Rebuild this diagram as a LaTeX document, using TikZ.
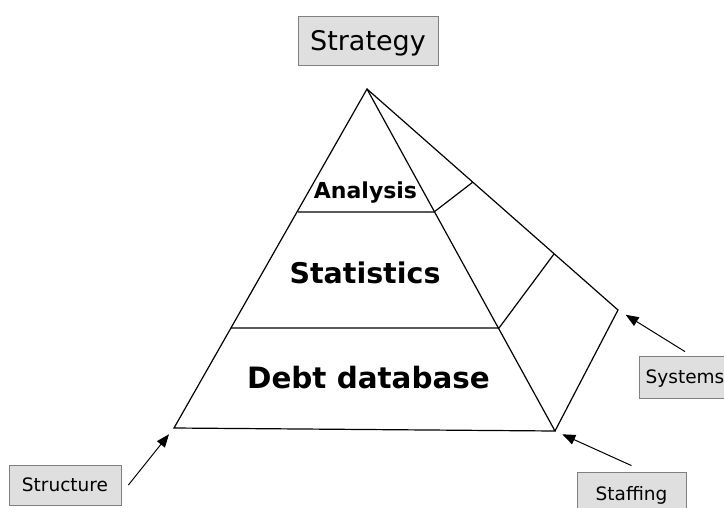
\documentclass[tikz,border=0pt]{standalone}
\usepackage{fontspec}
\setmainfont{DejaVu Sans}
\usetikzlibrary{arrows.meta}

\begin{document}
\begin{tikzpicture}[x=1pt, y=-1pt, line width=1.2pt,
    tag/.style={draw=gray, line width=0.8pt, fill=gray!25, inner sep=0pt,
        text height=13.5pt, text depth=0pt, font=\fontsize{18.5}{20}\selectfont},
    layer/.style={anchor=base, inner sep=0pt, font=\bfseries},
    pointer/.style={-{Triangle[length=13pt, width=10pt]}, line width=1pt}]
    \useasboundingbox (0,0) rectangle (724,507);
    % corners of the pyramid
    \coordinate (top) at (367,89);
    \coordinate (bl) at (174,428);
    \coordinate (br) at (555,431);
    \coordinate (back) at (618,310);
    \coordinate (a1) at (298,212);
    \coordinate (a2) at (434,212);
    \coordinate (a3) at (473,182);
    \coordinate (s1) at (231,328);
    \coordinate (s2) at (499,328);
    \coordinate (s3) at (554,254);
    \draw (top) -- (bl) -- (br) -- cycle;
    \draw (top) -- (back) -- (br);
    \draw (a1) -- (a2) -- (a3);
    \draw (s1) -- (s2) -- (s3);
    % layers
    \node[layer, font=\fontsize{22}{24}\selectfont\bfseries] (analysis) at (365.5,198) {Analysis};
    \node[layer, font=\fontsize{28.5}{30}\selectfont\bfseries] (statistics) at (365,283) {Statistics};
    \node[layer, font=\fontsize{29.4}{31}\selectfont\bfseries] (debt) at (368.5,388) {Debt database};
    % labels
    \node[tag, minimum width=140, minimum height=49, text height=19.7pt,
        font=\fontsize{27}{29}\selectfont] (strategy) at (368,40.5) {Strategy};
    \node[tag, minimum width=112, minimum height=40] (structure) at (65,485) {Structure};
    \node[tag, minimum width=109, minimum height=43] (staffing) at (631.5,493.5) {Staffing};
    \node[tag, minimum width=92, minimum height=42] (systems) at (685,377) {Systems};
    \draw[pointer, shorten >=8pt] ([xshift=7pt]structure.east) -- (bl);
    \draw[pointer, shorten >=8pt] ([yshift=6pt]staffing.north) -- (br);
    \draw[pointer, shorten >=9pt] ([yshift=4pt]systems.north) -- (back);
\end{tikzpicture}
\end{document}
